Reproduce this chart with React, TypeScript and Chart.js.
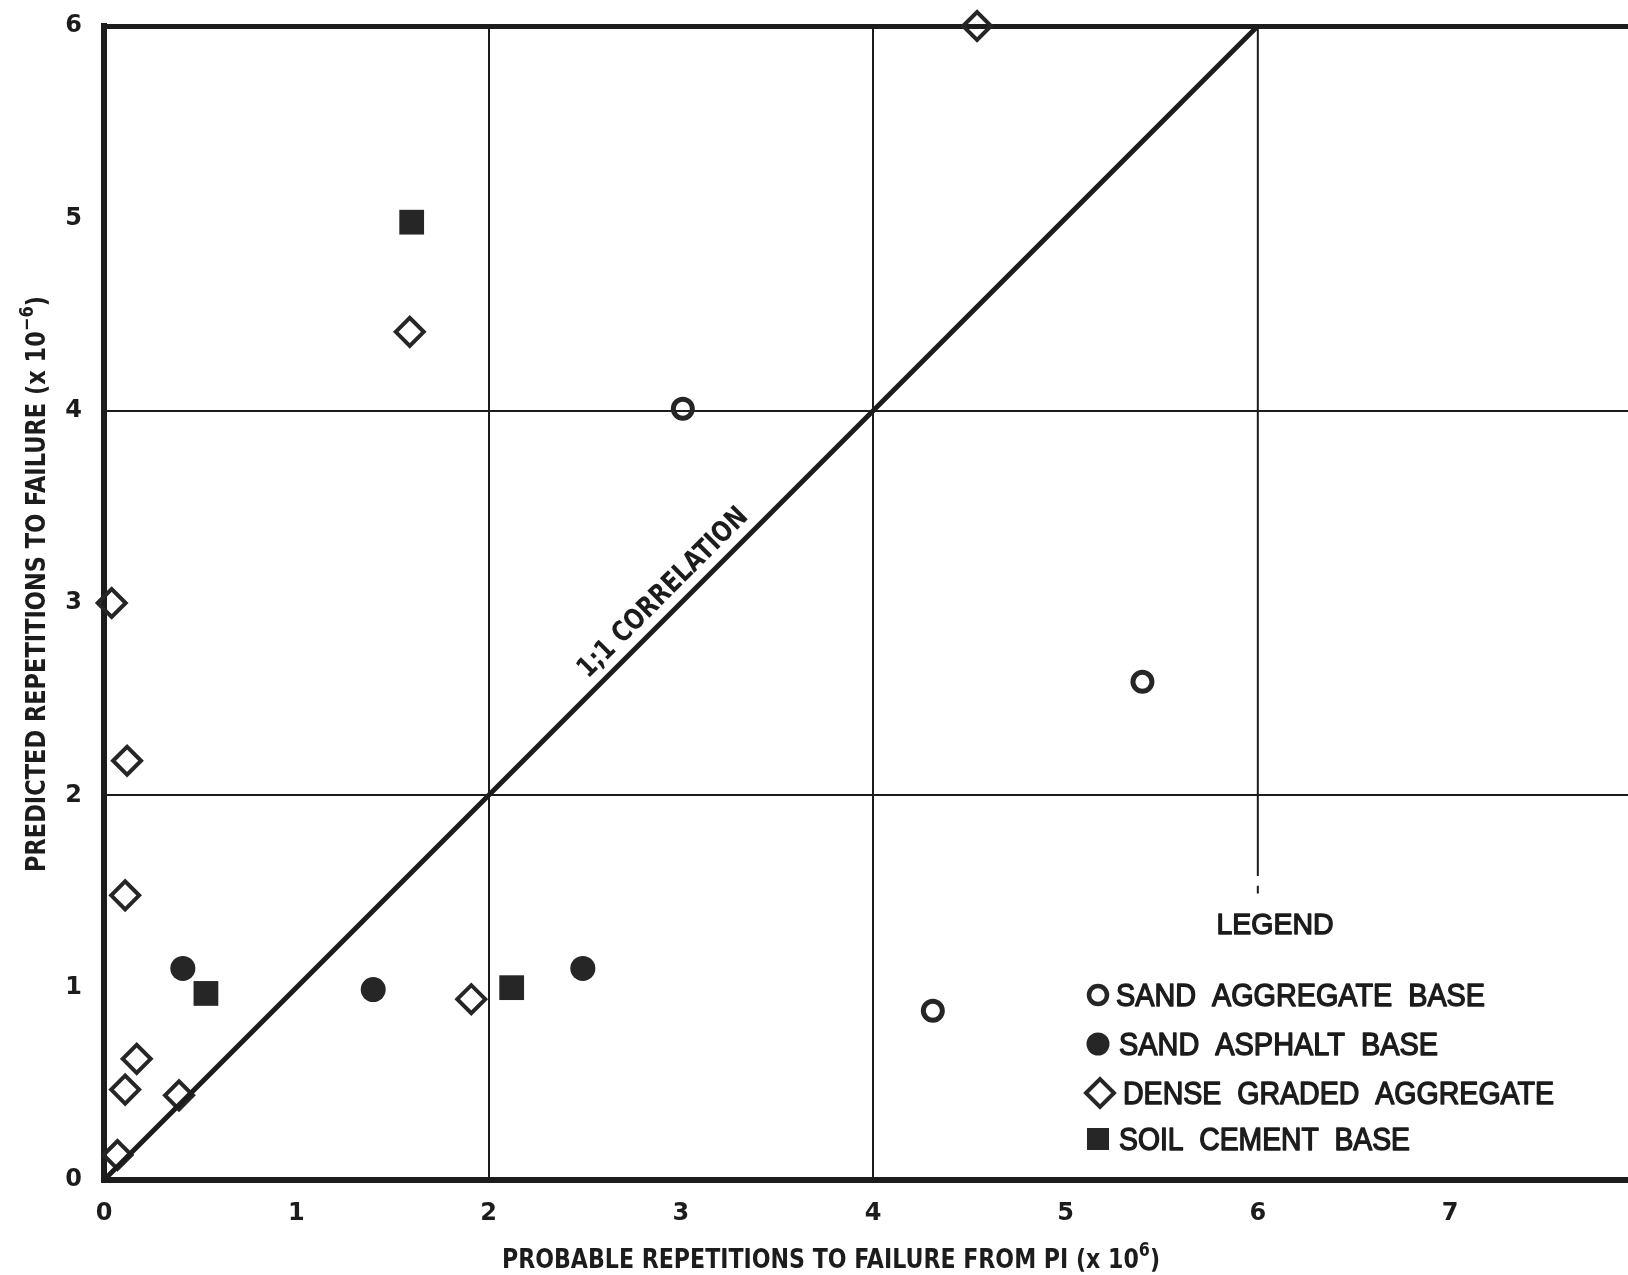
import { useEffect, useRef } from "react";
import { Chart, registerables } from "chart.js";

Chart.register(...registerables);

// Axis ticks and grid positions
const xTickValues = [0, 1, 2, 3, 4, 5, 6, 7];
const yTickValues = [0, 1, 2, 3, 4, 5, 6];
const xGridValues = [2, 4];
const yGridValues = [2, 4, 6];

// Measured pavement sections: x = probable repetitions from PI (x10^6), y = predicted repetitions
const sandAggregateBase = [
  { x: 3.01, y: 4.01 },
  { x: 5.4, y: 2.59 },
  { x: 4.31, y: 0.88 },
];
const sandAsphaltBase = [
  { x: 0.41, y: 1.1 },
  { x: 1.4, y: 0.99 },
  { x: 2.49, y: 1.1 },
];
const denseGradedAggregate = [
  { x: 4.54, y: 6.0 },
  { x: 1.59, y: 4.41 },
  { x: 0.04, y: 3.0 },
  { x: 0.12, y: 2.18 },
  { x: 0.11, y: 1.48 },
  { x: 1.91, y: 0.94 },
  { x: 0.17, y: 0.63 },
  { x: 0.11, y: 0.47 },
  { x: 0.39, y: 0.44 },
  { x: 0.07, y: 0.13 },
];
const soilCementBase = [
  { x: 1.6, y: 4.98 },
  { x: 0.53, y: 0.97 },
  { x: 2.12, y: 1.0 },
];
const correlationLine = [
  { x: 0, y: 0 },
  { x: 6, y: 6 },
];

const legendTitle = "LEGEND";
const legendLabels = [
  "SAND  AGGREGATE  BASE",
  "SAND  ASPHALT  BASE",
  "DENSE  GRADED  AGGREGATE",
  "SOIL  CEMENT  BASE",
];
const xTitle = [{ t: "PROBABLE REPETITIONS TO FAILURE FROM PI (x 10" }, { t: "6", sup: true }, { t: ")" }];
const yTitle = [{ t: "PREDICTED REPETITIONS TO FAILURE (x 10" }, { t: "\u22126", sup: true }, { t: ")" }];
const correlationText = "1;1 CORRELATION";

const INK = "#1c1c1c";
const MARK = "#262626";
const NARROW = "'DejaVu Sans', 'Liberation Sans', sans-serif";
const WIDE = "'Liberation Sans', Arial, sans-serif";

type Seg = { t: string; sup?: boolean };

// Draws a run of text (with optional superscript parts) squeezed to a given width.
function drawFitted(
  ctx: CanvasRenderingContext2D,
  segs: Seg[],
  o: { x: number; y: number; angle: number; width: number; size: number; family: string; weight: string; align: "left" | "center"; stroke?: number }
) {
  const supSize = o.size * 0.72;
  const fontFor = (s: Seg) => `${o.weight} ${s.sup ? supSize : o.size}px ${o.family}`;
  let natural = 0;
  const widths = segs.map((s) => {
    ctx.font = fontFor(s);
    const w = ctx.measureText(s.t).width;
    natural += w;
    return w;
  });
  const k = o.width / natural;
  ctx.save();
  ctx.translate(o.x, o.y);
  ctx.rotate(o.angle);
  ctx.scale(k, 1);
  ctx.textAlign = "left";
  ctx.textBaseline = "alphabetic";
  ctx.fillStyle = INK;
  ctx.strokeStyle = INK;
  ctx.lineJoin = "round";
  let x = o.align === "left" ? 0 : -natural / 2;
  const base = o.size * 0.36;
  segs.forEach((s, i) => {
    ctx.font = fontFor(s);
    const y = s.sup ? base - o.size * 0.42 : base;
    ctx.fillText(s.t, x, y);
    if (o.stroke) {
      ctx.lineWidth = o.stroke;
      ctx.strokeText(s.t, x, y);
    }
    x += widths[i];
  });
  ctx.restore();
}

function drawMarker(ctx: CanvasRenderingContext2D, kind: string, x: number, y: number) {
  ctx.save();
  ctx.fillStyle = MARK;
  ctx.strokeStyle = MARK;
  ctx.beginPath();
  if (kind === "openCircle") {
    ctx.lineWidth = 4.5;
    ctx.arc(x, y, 9, 0, Math.PI * 2);
    ctx.stroke();
  } else if (kind === "dot") {
    ctx.arc(x, y, 11.5, 0, Math.PI * 2);
    ctx.fill();
  } else if (kind === "diamond") {
    ctx.lineWidth = 4;
    ctx.moveTo(x - 14, y);
    ctx.lineTo(x, y - 14);
    ctx.lineTo(x + 14, y);
    ctx.lineTo(x, y + 14);
    ctx.closePath();
    ctx.stroke();
  } else {
    ctx.rect(x - 11, y - 11, 22, 22);
    ctx.fill();
  }
  ctx.restore();
}

const annotations = {
  id: "annotations",
  beforeDatasetsDraw(chart: any) {
    const { ctx, scales } = chart;
    const xs = scales.x;
    const ys = scales.y;
    // partial vertical rule at x = 6, stopping above the legend
    const px = xs.getPixelForValue(6);
    ctx.save();
    ctx.strokeStyle = INK;
    ctx.lineWidth = 2;
    ctx.beginPath();
    ctx.moveTo(px, ys.getPixelForValue(6));
    ctx.lineTo(px, ys.getPixelForValue(1.58));
    ctx.moveTo(px, ys.getPixelForValue(1.53));
    ctx.lineTo(px, ys.getPixelForValue(1.49));
    ctx.stroke();
    ctx.restore();
  },
  afterDraw(chart: any) {
    const { ctx, scales } = chart;
    const xs = scales.x;
    const ys = scales.y;

    // axis titles
    drawFitted(ctx, xTitle, { x: 831, y: 1258, angle: 0, width: 658, size: 27, family: NARROW, weight: "bold", align: "center" });
    drawFitted(ctx, yTitle, { x: 35, y: 584, angle: -Math.PI / 2, width: 576, size: 27, family: NARROW, weight: "bold", align: "center" });

    // label along the 1:1 line
    const t = 2.98;
    const lx = xs.getPixelForValue(t);
    const ly = ys.getPixelForValue(t);
    const ang = Math.atan2(ys.getPixelForValue(6) - ys.getPixelForValue(0), xs.getPixelForValue(6) - xs.getPixelForValue(0));
    const off = 22;
    drawFitted(ctx, [{ t: correlationText }], {
      x: lx + off * Math.sin(ang),
      y: ly - off * Math.cos(ang),
      angle: ang,
      width: 228,
      size: 28,
      family: NARROW,
      weight: "bold",
      align: "center",
    });

    // legend
    drawFitted(ctx, [{ t: legendTitle }], { x: 1275, y: 923, angle: 0, width: 117, size: 30, family: WIDE, weight: "normal", align: "center", stroke: 1.4 });
    const kinds = ["openCircle", "dot", "diamond", "square"];
    const rows = [995, 1044, 1093, 1139];
    const markerX = [1098, 1098, 1100, 1098];
    const textLeft = [1116, 1119, 1123, 1119];
    const textRight = [1485, 1438, 1554, 1410];
    legendLabels.forEach((label, i) => {
      drawMarker(ctx, kinds[i], markerX[i], rows[i]);
      drawFitted(ctx, [{ t: label }], {
        x: textLeft[i],
        y: rows[i],
        angle: 0,
        width: textRight[i] - textLeft[i],
        size: 31,
        family: WIDE,
        weight: "normal",
        align: "left",
        stroke: 1.4,
      });
    });
  },
};

export default function App() {
  const canvasRef = useRef<HTMLCanvasElement>(null);

  useEffect(() => {
    document.documentElement.style.overflow = "hidden";
    document.body.style.margin = "0";
    document.body.style.overflow = "hidden";
    document.body.style.background = "#ffffff";
    const canvas = canvasRef.current;
    if (!canvas) return;

    const tickFont = { family: NARROW, size: 24, weight: "bold" } as any;

    const chart = new Chart(canvas, {
      type: "scatter",
      data: {
        datasets: [
          {
            label: "1:1 correlation",
            data: correlationLine,
            showLine: true,
            borderColor: INK,
            borderWidth: 5,
            pointRadius: 0,
            clip: false,
          },
          {
            label: "Sand aggregate base",
            data: sandAggregateBase,
            pointStyle: "circle",
            pointRadius: 9.5,
            borderWidth: 5,
            borderColor: MARK,
            backgroundColor: "rgba(0,0,0,0)",
            clip: false,
          },
          {
            label: "Sand asphalt base",
            data: sandAsphaltBase,
            pointStyle: "circle",
            pointRadius: 12.5,
            borderWidth: 0,
            backgroundColor: MARK,
            borderColor: MARK,
            clip: false,
          },
          {
            label: "Dense graded aggregate",
            data: denseGradedAggregate,
            pointStyle: "rectRot",
            pointRadius: 14,
            borderWidth: 4,
            borderColor: MARK,
            backgroundColor: "rgba(0,0,0,0)",
            clip: false,
          },
          {
            label: "Soil cement base",
            data: soilCementBase,
            pointStyle: "rect",
            pointRadius: 17.5,
            borderWidth: 0,
            backgroundColor: MARK,
            borderColor: MARK,
            clip: false,
          },
        ],
      },
      options: {
        animation: false,
        responsive: false,
        devicePixelRatio: 1,
        events: [],
        layout: { autoPadding: false, padding: { top: 26, right: 0, left: 0, bottom: 0 } },
        plugins: {
          legend: { display: false },
          tooltip: { enabled: false },
        },
        scales: {
          x: {
            type: "linear",
            min: 0,
            max: 7.925,
            afterBuildTicks: (scale: any) => {
              scale.ticks = xTickValues.map((v) => ({ value: v }));
            },
            afterFit: (scale: any) => {
              scale.height = 95;
              scale.paddingLeft = 0;
              scale.paddingRight = 0;
            },
            grid: {
              drawTicks: false,
              tickLength: 0,
              color: (c: any) => (xGridValues.includes(c.tick?.value) ? INK : "rgba(0,0,0,0)"),
              lineWidth: 2,
            },
            border: { display: true, color: INK, width: 6 },
            ticks: {
              padding: 19,
              color: INK,
              font: tickFont,
              callback: (v: any) => String(v),
            },
          },
          y: {
            type: "linear",
            min: 0,
            max: 6,
            afterBuildTicks: (scale: any) => {
              scale.ticks = yTickValues.map((v) => ({ value: v }));
            },
            afterFit: (scale: any) => {
              scale.width = 104;
              scale.paddingTop = 0;
              scale.paddingBottom = 0;
            },
            grid: {
              drawTicks: false,
              tickLength: 0,
              color: (c: any) => (yGridValues.includes(c.tick?.value) ? INK : "rgba(0,0,0,0)"),
              lineWidth: (c: any) => (c.tick?.value === 6 ? 5 : 2),
            },
            border: { display: true, color: INK, width: 6 },
            ticks: {
              padding: 22,
              color: INK,
              font: tickFont,
              callback: (v: any) => String(v),
            },
          },
        },
      },
      plugins: [annotations],
    });

    return () => chart.destroy();
  }, []);

  return <canvas ref={canvasRef} width={1628} height={1275} style={{ display: "block" }} />;
}
